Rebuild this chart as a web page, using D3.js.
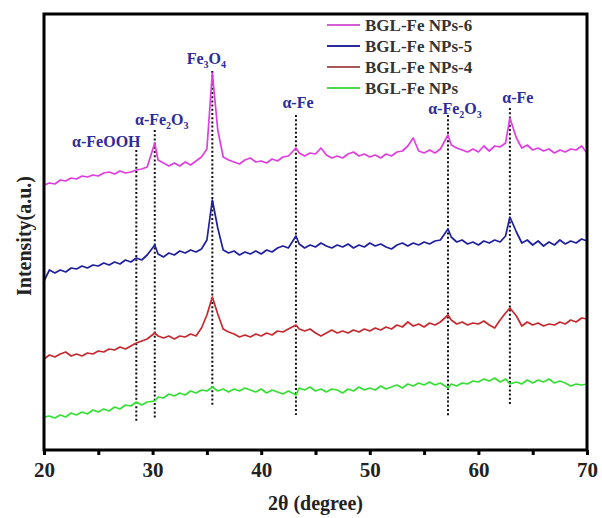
<!DOCTYPE html>
<html>
<head>
<meta charset="utf-8">
<title>XRD of BGL-Fe NPs</title>
<script src="https://d3js.org/d3.v7.min.js"></script>
<style>
  body { margin: 0; background: #fff; }
  text { font-family: "Liberation Serif", "Times New Roman", serif; font-weight: bold; }
</style>
</head>
<body>
<script>
var width = 602, height = 518;

// 2theta sampling (degree), peaks kept on their own angles
var twoTheta = [20, 20.5, 21, 21.5, 22, 22.5, 23, 23.5, 24, 24.5, 25, 25.5, 26, 26.5, 27, 27.5, 28, 28.5, 29, 29.5,
  30.2, 30.5, 31, 31.5, 32, 32.5, 33, 33.5, 34, 34.5, 35, 35.5, 36, 36.5, 37, 37.5, 38, 38.5, 39, 39.5, 40, 40.5, 41, 41.5, 42, 42.5,
  43.2, 43.5, 44, 44.5, 45, 45.5, 46, 46.5, 47, 47.5, 48, 48.5, 49, 49.5, 50, 50.5, 51, 51.5, 52, 52.5, 53, 53.5, 54, 54.5, 55, 55.5, 56, 56.5,
  57.2, 57.5, 58, 58.5, 59, 59.5, 60, 60.5, 61, 61.5, 62, 62.5,
  62.9, 63.5, 64, 64.5, 65, 65.5, 66, 66.5, 67, 67.5, 68, 68.5, 69, 69.5, 70];

// intensities (a.u.), stacked offsets included
var np6 = [265, 267, 266, 270, 269, 272, 271, 274, 273, 275, 274, 277, 278, 276, 279, 277, 278, 280, 281, 283,
  307, 290, 287, 284, 287, 284, 288, 285, 289, 293, 301, 377, 320, 293, 290, 288, 286, 290, 292, 288, 289, 287, 291, 289, 293, 294,
  302, 297, 294, 297, 296, 302, 295, 292, 294, 292, 296, 298, 294, 296, 293, 295, 292, 296, 294, 298, 299, 304, 312, 299, 297, 300, 297, 301,
  315, 305, 302, 300, 298, 301, 298, 304, 299, 304, 303, 307,
  332, 312, 302, 305, 300, 302, 299, 301, 297, 300, 298, 301, 300, 304, 297];
var np5 = [169, 180, 177, 180, 178, 182, 181, 184, 182, 185, 184, 187, 185, 188, 186, 190, 188, 192, 190, 195,
  205, 196, 193, 197, 195, 199, 197, 200, 198, 201, 210, 250, 222, 200, 197, 199, 195, 198, 196, 199, 196, 200, 198, 202, 204, 202,
  214, 206, 202, 205, 203, 207, 204, 202, 205, 203, 206, 202, 205, 203, 207, 204, 206, 203, 201, 205, 207, 204, 207, 205, 208, 206, 209, 210,
  221, 213, 208, 210, 206, 208, 205, 209, 207, 210, 208, 214,
  233, 218, 207, 210, 205, 209, 204, 208, 205, 210, 206, 209, 207, 211, 209];
var np4 = [91, 95, 93, 96, 98, 94, 96, 94, 97, 96, 99, 98, 101, 100, 103, 101, 104, 107, 109, 111,
  117, 114, 112, 114, 111, 114, 113, 116, 114, 122, 135, 153, 136, 121, 118, 116, 113, 115, 113, 116, 114, 117, 115, 119, 118, 121,
  125, 121, 119, 121, 117, 114, 117, 120, 117, 119, 117, 120, 118, 121, 119, 122, 120, 123, 121, 125, 123, 128, 124, 126, 123, 127, 125, 128,
  135, 130, 126, 128, 125, 127, 126, 129, 125, 122, 130, 137,
  142, 134, 124, 128, 125, 127, 124, 126, 125, 128, 126, 130, 128, 132, 131];
var np0 = [33, 34, 32, 35, 33, 37, 35, 38, 36, 40, 38, 41, 39, 43, 41, 45, 44, 48, 45, 48,
  49, 53, 52, 56, 54, 57, 55, 59, 57, 60, 59, 63, 59, 61, 58, 61, 59, 62, 60, 58, 61, 57, 60, 58, 56, 59,
  55, 62, 60, 63, 59, 61, 58, 61, 60, 57, 61, 59, 63, 60, 62, 60, 64, 61, 63, 65, 62, 66, 64, 67, 65, 68, 65, 67,
  62, 66, 64, 67, 66, 69, 68, 71, 69, 72, 68, 71,
  66, 68, 66, 70, 67, 70, 68, 71, 67, 69, 67, 64, 66, 65, 66];

var seriesNames = ["BGL-Fe NPs-6", "BGL-Fe NPs-5", "BGL-Fe NPs-4", "BGL-Fe NPs"];
var seriesValues = [np6, np5, np4, np0];
var seriesColors = ["#e03ee0", "#1e1ea0", "#c62a2e", "#35e035"];
var legendColors = ["#d65cd6", "#2a2a9a", "#a85a5a", "#4cd84c"];

var xTicks = [20, 25, 30, 35, 40, 45, 50, 55, 60, 65, 70];

// reference lines for the phases
var peakAngles = [28.5, 30.2, 35.5, 43.2, 57.2, 62.9];
var peakTops = [300, 320, 379, 335, 335, 342];
var peakBottoms = [27, 31, 43, 35, 33, 45];
var peakLabels = [
  [["α-FeOOH", 0]],
  [["α-Fe", 0], ["2", 1], ["O", 0], ["3", 1]],
  [["Fe", 0], ["3", 1], ["O", 0], ["4", 1]],
  [["α-Fe", 0]],
  [["α-Fe", 0], ["2", 1], ["O", 0], ["3", 1]],
  [["α-Fe", 0]]
];
var labelDx = [-30, 7, -6, 2, 7, 8];
var labelBase = [303, 325, 386, 342, 336, 347];

var margin = { left: 44, right: 15, top: 14, bottom: 68 };

var svg = d3.select("body").append("svg")
  .attr("width", width)
  .attr("height", height);

var x = d3.scaleLinear().domain([20, 70]).range([margin.left, width - margin.right]);
var y = d3.scaleLinear().domain([0, 436]).range([height - margin.bottom, margin.top]);

// dotted phase lines
svg.append("g").selectAll("line")
  .data(peakAngles)
  .enter().append("line")
  .attr("x1", function(d) { return x(d); })
  .attr("x2", function(d) { return x(d); })
  .attr("y1", function(d, i) { return y(peakTops[i]); })
  .attr("y2", function(d, i) { return y(peakBottoms[i]); })
  .attr("stroke", "#111")
  .attr("stroke-width", 2)
  .attr("stroke-dasharray", "2,2.2");

// patterns
var line = d3.line()
  .x(function(d) { return x(d[0]); })
  .y(function(d) { return y(d[1]); });

svg.append("g").selectAll("path")
  .data(seriesValues)
  .enter().append("path")
  .attr("fill", "none")
  .attr("stroke", function(d, i) { return seriesColors[i]; })
  .attr("stroke-width", 1.7)
  .attr("stroke-linejoin", "round")
  .attr("d", function(vals) { return line(twoTheta.map(function(t, j) { return [t, vals[j]]; })); });

// phase labels
var labels = svg.append("g").selectAll("text")
  .data(peakLabels)
  .enter().append("text")
  .attr("x", function(d, i) { return x(peakAngles[i]) + labelDx[i]; })
  .attr("y", function(d, i) { return y(labelBase[i]); })
  .attr("text-anchor", "middle")
  .attr("fill", "#2c2c9c")
  .style("font-size", "16px");

labels.each(function(parts) {
  var t = d3.select(this);
  parts.forEach(function(p, k) {
    var span = t.append("tspan").text(p[0]);
    if (p[1]) span.attr("dy", 4).style("font-size", "10px");
    else if (k > 0 && parts[k - 1][1]) span.attr("dy", -4);
  });
});

// frame
svg.append("rect")
  .attr("x", x(20))
  .attr("y", margin.top)
  .attr("width", x(70) - x(20))
  .attr("height", y(0) - margin.top)
  .attr("fill", "none")
  .attr("stroke", "#000")
  .attr("stroke-width", 3);

// x axis
var xAxis = d3.axisBottom(x)
  .tickValues(xTicks)
  .tickSize(5)
  .tickFormat(function(d) { return d % 10 === 0 ? d : ""; });

var gx = svg.append("g")
  .attr("transform", "translate(0," + y(0) + ")")
  .call(xAxis);
gx.select(".domain").remove();
gx.selectAll(".tick line").attr("stroke", "#000").attr("stroke-width", 3);
gx.selectAll(".tick text")
  .attr("y", 12)
  .attr("fill", "#222")
  .style("font-family", "'Liberation Serif', serif")
  .style("font-weight", "bold")
  .style("font-size", "21px");

svg.append("text")
  .attr("x", (x(20) + x(70)) / 2)
  .attr("y", 510)
  .attr("text-anchor", "middle")
  .attr("fill", "#222")
  .style("font-size", "20px")
  .text("2θ (degree)");

svg.append("text")
  .attr("transform", "translate(31," + 236 + ") rotate(-90)")
  .attr("text-anchor", "middle")
  .attr("fill", "#222")
  .style("font-size", "20px")
  .text("Intensity(a.u.)");

// legend
var legend = svg.append("g").selectAll("g")
  .data(seriesNames)
  .enter().append("g")
  .attr("transform", function(d, i) { return "translate(327," + (25 + i * 21) + ")"; });

legend.append("line")
  .attr("x1", 0).attr("x2", 33)
  .attr("stroke", function(d, i) { return legendColors[i]; })
  .attr("stroke-width", 1.8);

legend.append("text")
  .attr("x", 38)
  .attr("y", 6)
  .attr("fill", "#333")
  .style("font-size", "17px")
  .text(function(d) { return d; });
</script>
</body>
</html>
